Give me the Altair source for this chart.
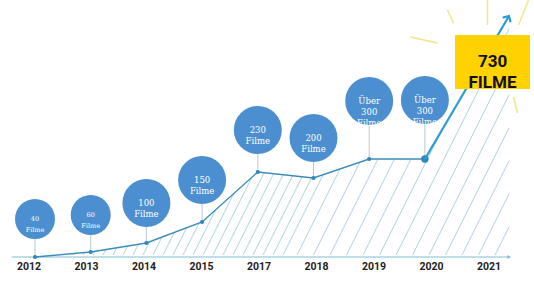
import altair as alt
import pandas as pd
import numpy as np

# ---------------- data ----------------
years = ["2012", "2013", "2014", "2015", "2017", "2018", "2019", "2020", "2021"]
# height of each data point above the time axis (infographic units)
point_level = [0, 5, 14, 35, 85, 79, 98, 98]
# height of each bubble centre above the time axis
bubble_level = [38, 42, 54, 77, 127, 119, 156, 157]
bubble_text = ["40\nFilme", "60\nFilme", "100\nFilme", "150\nFilme", "230\nFilme",
               "200\nFilme", "Über\n300\nFilme", "Über\n300\nFilme"]
final_text = "730\nFILME"
final_pos = 8.51      # where the growth arrow ends (position on the time axis)
final_level = 241     # height of the arrow tip

# ---------------- geometry helpers (scale domains) ----------------
W, H = 534, 299
PX0, PXS = 35.0, 55.7          # point scale: index -> pixels
LX0, LXS = 29.0, 57.5          # label scale
pdom = [-PX0 / PXS, (W - PX0) / PXS]
ldom = [-LX0 / LXS, (W - LX0) / LXS]
BASE = 257
ydom = [BASE - H, BASE]

xs = alt.Scale(domain=pdom, nice=False, zero=False)
xl = alt.Scale(domain=ldom, nice=False, zero=False)
ys = alt.Scale(domain=ydom, nice=False, zero=False)

def px(i):
    return PX0 + PXS * i

def ipx(p):
    return (p - PX0) / PXS

n = len(point_level)
pts = pd.DataFrame({
    "i": list(range(n)),
    "level": point_level,
    "blevel": bubble_level,
    "text": bubble_text,
})
pts["r"] = [20 if k < 2 else 24 for k in range(n)]
pts["size"] = (2 * pts["r"]) ** 2
pts["stem_top"] = pts["blevel"] - pts["r"]
pts["fs"] = [6.5 if k < 2 else 8.5 for k in range(n)]
pts["big"] = [k == n - 1 for k in range(n)]

final_seg = pd.DataFrame({"i": [n - 1, final_pos], "level": [point_level[-1], final_level]})
poly_i = list(range(n)) + [final_pos]
poly_l = point_level + [final_level]

# ---------------- hatching under the line ----------------
poly_x = [px(v) for v in poly_i]

def level_at(xp):
    return float(np.interp(xp, poly_x, poly_l))

x_end = px(final_pos)
starts = list(np.arange(62, 290, 10.0)) + list(np.arange(296, 506, 16.5))
hatch = []
for x0 in starts:
    t = 2.0
    while True:
        xx = x0 + 0.5 * t
        if xx >= x_end or t >= level_at(xx):
            break
        t += 0.25
    if t > 3:
        hatch.append({"i": ipx(x0 + 1.0), "l": 2.0, "i2": ipx(x0 + 0.5 * t), "l2": t})
hatch = pd.DataFrame(hatch)

# ---------------- yellow box & rays ----------------
bcx, bcy = 492.5, 62.0
box = pd.DataFrame({
    "i": [ipx(bcx - 37.5)], "i2": [ipx(bcx + 37.5)],
    "l": [BASE - (bcy - 27)], "l2": [BASE - (bcy + 27)],
    "ci": [ipx(bcx)], "cl": [BASE - bcy], "text": [final_text],
})
ray_ends = [(-5, -62, -5, -37), (-45, -52, -39, -39), (-82, -25, -55, -19),
            (36, -62, 26, -37), (21, 35, 25, 51)]
rays = pd.DataFrame([{
    "i": ipx(bcx + a), "l": BASE - (bcy + b), "i2": ipx(bcx + c), "l2": BASE - (bcy + d)
} for a, b, c, d in ray_ends])

# ---------------- axis ----------------
labels = pd.DataFrame({"k": list(range(len(years))), "year": years, "l": [-10] * len(years)})
axis = pd.DataFrame({"k": [-0.3], "k2": [len(years) - 1 + 0.35], "l": [0]})
axis_tip = pd.DataFrame({"k": [len(years) - 1 + 0.35], "l": [0]})

BLUE = "#4b8fd1"
LINE = "#3a8dbb"
ARROW = "#2a9bd8"
HATCH = "#93c8d4"

hatch_layer = alt.Chart(hatch).mark_rule(color=HATCH, strokeWidth=0.8).encode(
    x=alt.X("i:Q", scale=xs, axis=None), x2="i2:Q",
    y=alt.Y("l:Q", scale=ys, axis=None), y2="l2:Q")

axis_layer = alt.Chart(axis).mark_rule(color="#7fbfd0", strokeWidth=1.2).encode(
    x=alt.X("k:Q", scale=xl, axis=None), x2="k2:Q",
    y=alt.Y("l:Q", scale=ys, axis=None))
axis_tip_layer = alt.Chart(axis_tip).mark_point(shape="triangle-right", filled=True,
                                                 color="#7fbfd0", size=18, opacity=1).encode(
    x=alt.X("k:Q", scale=xl, axis=None), y=alt.Y("l:Q", scale=ys, axis=None))

year_layer = alt.Chart(labels).mark_text(font="Roboto", fontWeight="bold", fontSize=10.5,
                                         color="#222222", baseline="middle").encode(
    x=alt.X("k:Q", scale=xl, axis=None), y=alt.Y("l:Q", scale=ys, axis=None), text="year:N")

line_layer = alt.Chart(pts).mark_line(color=LINE, strokeWidth=1.4).encode(
    x=alt.X("i:Q", scale=xs, axis=None), y=alt.Y("level:Q", scale=ys, axis=None), order="i:Q")

final_layer = alt.Chart(final_seg).mark_line(color=ARROW, strokeWidth=2.2).encode(
    x=alt.X("i:Q", scale=xs, axis=None), y=alt.Y("level:Q", scale=ys, axis=None))

arrow_head = alt.Chart(final_seg.iloc[[1]]).mark_point(
    shape="M-0.75,0.75L0,0L0.75,0.75", filled=False, strokeWidth=2.2, color=ARROW,
    size=150, angle=31, opacity=1).encode(
    x=alt.X("i:Q", scale=xs, axis=None), y=alt.Y("level:Q", scale=ys, axis=None))

stem_layer = alt.Chart(pts).mark_rule(color="#b4c9d6", strokeWidth=1).encode(
    x=alt.X("i:Q", scale=xs, axis=None),
    y=alt.Y("level:Q", scale=ys, axis=None), y2="stem_top:Q")

bubble_layer = alt.Chart(pts).mark_circle(color=BLUE, opacity=1).encode(
    x=alt.X("i:Q", scale=xs, axis=None), y=alt.Y("blevel:Q", scale=ys, axis=None),
    size=alt.Size("size:Q", scale=None))

bubble_text_layer = alt.Chart(pts).mark_text(font="DejaVu Serif", color="white",
                                             lineBreak="\n", lineHeight=11,
                                             baseline="middle").encode(
    x=alt.X("i:Q", scale=xs, axis=None), y=alt.Y("blevel:Q", scale=ys, axis=None),
    text="text:N", size=alt.Size("fs:Q", scale=None))

dot_layer = alt.Chart(pts).mark_circle(color="#2f86b8", opacity=1).encode(
    x=alt.X("i:Q", scale=xs, axis=None), y=alt.Y("level:Q", scale=ys, axis=None),
    size=alt.condition("datum.big", alt.value(55), alt.value(18)))

ray_layer = alt.Chart(rays).mark_rule(color="#f4e48a", strokeWidth=1.5).encode(
    x=alt.X("i:Q", scale=xs, axis=None), x2="i2:Q",
    y=alt.Y("l:Q", scale=ys, axis=None), y2="l2:Q")

box_layer = alt.Chart(box).mark_rect(color="#ffd200").encode(
    x=alt.X("i:Q", scale=xs, axis=None), x2="i2:Q",
    y=alt.Y("l:Q", scale=ys, axis=None), y2="l2:Q")

box_text = alt.Chart(box).mark_text(font="Roboto", fontWeight="bold", fontSize=17,
                                    color="#111111", lineBreak="\n", lineHeight=21,
                                    baseline="middle").encode(
    x=alt.X("ci:Q", scale=xs, axis=None), y=alt.Y("cl:Q", scale=ys, axis=None), text="text:N")

chart = alt.layer(
    hatch_layer, axis_layer, axis_tip_layer, year_layer, line_layer, stem_layer,
    bubble_layer, bubble_text_layer, dot_layer, final_layer, ray_layer, box_layer,
    box_text, arrow_head
).resolve_scale(x="independent").properties(
    width=W, height=H, padding=0, autosize=alt.AutoSizeParams(type="none"),
    background="white"
).configure_view(stroke=None)

chart.save("out.html", embed_options={"renderer": "svg", "actions": False})
